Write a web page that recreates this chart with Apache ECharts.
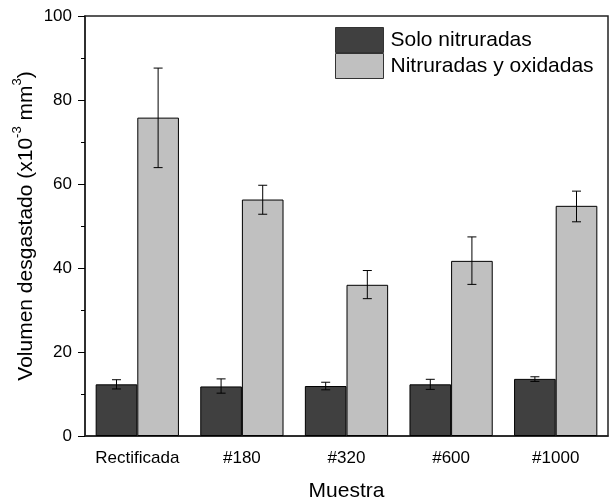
<!DOCTYPE html>
<html><head><meta charset="utf-8">
<script src="https://cdn.jsdelivr.net/npm/echarts@6/dist/echarts.min.js"></script>
<style>html,body{margin:0;padding:0;background:#fff}#c{width:612px;height:502px}</style>
</head><body><div id="c"></div>
<script>
var categories = ['Rectificada', '#180', '#320', '#600', '#1000'];
var seriesNames = ['Solo nitruradas', 'Nitruradas y oxidadas'];
var soloValues = [12.3, 11.8, 11.9, 12.3, 13.6];
var soloErrLow = [11.2, 10.2, 11.0, 11.1, 13.0];
var soloErrHigh = [13.4, 13.6, 12.8, 13.5, 14.1];
var oxiValues = [75.8, 56.3, 36.0, 41.7, 54.8];
var oxiErrLow = [63.9, 52.8, 32.7, 36.1, 51.0];
var oxiErrHigh = [87.6, 59.7, 39.4, 47.4, 58.3];
var yTicks = [0, 20, 40, 60, 80, 100];

var BAR_FRAC = 0.398;
function errData(low, high) {
  return categories.map(function (c, i) { return [i, low[i], high[i]]; });
}
function errRender(sign) {
  return function (params, api) {
    var band = api.size([1, 0])[0];
    var off = sign * band * BAR_FRAC / 2;
    var lo = api.coord([api.value(0), api.value(1)]);
    var hi = api.coord([api.value(0), api.value(2)]);
    var x = lo[0] + off;
    var cap = 4.5;
    var st = { stroke: '#000', lineWidth: 1 };
    return { type: 'group', children: [
      { type: 'line', shape: { x1: x, y1: lo[1], x2: x, y2: hi[1] }, style: st },
      { type: 'line', shape: { x1: x - cap, y1: lo[1], x2: x + cap, y2: lo[1] }, style: st },
      { type: 'line', shape: { x1: x - cap, y1: hi[1], x2: x + cap, y2: hi[1] }, style: st }
    ]};
  };
}
var font = 'Liberation Sans, Arial, sans-serif';
var chart = echarts.init(document.getElementById('c'), null, { renderer: 'canvas' });
chart.setOption({
  animation: false,
  grid: { left: 85, right: 4, top: 16, bottom: 66, containLabel: false, outerBoundsMode: 'none',
    show: true, borderColor: '#222', borderWidth: 1.5 },
  legend: {
    orient: 'vertical', left: 335, top: 27, padding: 0, itemWidth: 48, itemHeight: 25, itemGap: 0,
    icon: 'rect',
    itemStyle: { borderWidth: 1, borderColor: '#333' },
    textStyle: { fontFamily: font, fontSize: 21, color: '#000', padding: [0, 0, 0, 2] },
    data: seriesNames
  },
  xAxis: {
    type: 'category', data: categories,
    axisLine: { lineStyle: { color: '#222', width: 1.5 } },
    axisTick: { alignWithLabel: true, length: 6, lineStyle: { color: '#000' } },
    axisLabel: { interval: 0, fontFamily: font, fontSize: 17, color: '#000', margin: 14 },
    name: 'Muestra', nameLocation: 'middle', nameGap: 45, nameMoveOverlap: false,
    nameTextStyle: { fontFamily: font, fontSize: 21, color: '#000' }
  },
  yAxis: {
    type: 'value', min: 0, max: 100, interval: 20,
    axisLine: { show: true, lineStyle: { color: '#222', width: 1.5 } },
    axisTick: { show: true, length: 7, lineStyle: { color: '#000' } },
    minorTick: { show: true, splitNumber: 2, length: 4, lineStyle: { color: '#000' } },
    splitLine: { show: false },
    axisLabel: { fontFamily: font, fontSize: 17, color: '#000', margin: 13,
      formatter: function (v) { return yTicks.indexOf(v) >= 0 ? String(v) : ''; } },
    name: '{a|Volumen desgastado (x10}{s|-3}{a| mm}{s|3}{a|)}',
    nameLocation: 'middle', nameGap: 48, nameMoveOverlap: false,
    nameTextStyle: { fontFamily: font, color: '#000',
      rich: {
        a: { fontFamily: font, fontSize: 21, color: '#000', lineHeight: 26, verticalAlign: 'bottom' },
        s: { fontFamily: font, fontSize: 13, color: '#000', lineHeight: 26, verticalAlign: 'top' }
      } }
  },
  series: [
    { name: seriesNames[0], type: 'bar', data: soloValues, barWidth: (BAR_FRAC * 100) + '%', barGap: '0%',
      itemStyle: { color: '#404040', borderColor: '#000', borderWidth: 1 } },
    { name: seriesNames[1], type: 'bar', data: oxiValues, barWidth: (BAR_FRAC * 100) + '%', barGap: '0%',
      itemStyle: { color: '#c0c0c0', borderColor: '#000', borderWidth: 1 } },
    { type: 'custom', data: errData(soloErrLow, soloErrHigh), renderItem: errRender(-1), z: 5,
      encode: { x: 0, y: [1, 2] }, silent: true },
    { type: 'custom', data: errData(oxiErrLow, oxiErrHigh), renderItem: errRender(1), z: 5,
      encode: { x: 0, y: [1, 2] }, silent: true }
  ]
});
</script></body></html>
